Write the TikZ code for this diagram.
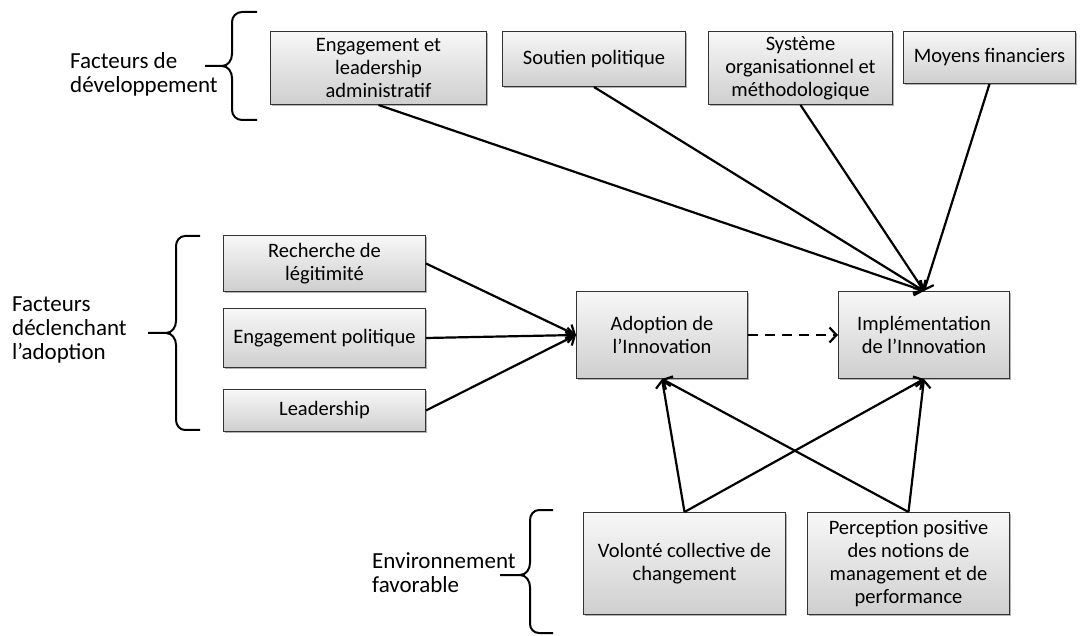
\documentclass[tikz,border=0pt]{standalone}
\usepackage{fontspec}
\setmainfont{Carlito}
\usepackage{tikz}
\usetikzlibrary{positioning,arrows.meta,shadows}
\tikzset{
  box/.style={draw=black!80,line width=1pt,top color=gray!6,bottom color=gray!38,
    align=center,inner sep=1pt,font=\fontsize{20.5}{23}\selectfont,anchor=north west,
    drop shadow={shadow xshift=1.5pt,shadow yshift=-1.5pt,opacity=0.3,fill=black}},
  lab/.style={align=left,inner sep=0pt,font=\fontsize{23}{24}\selectfont,anchor=west},
  brk/.style={line width=2pt,black},
  lnk/.style={->,line width=2.2pt},
}

\begin{document}
\begin{tikzpicture}[x=1pt,y=-1pt,>={Straight Barb[length=7pt,width=15pt,line width=2.2pt]}]
  \useasboundingbox (0,0) rectangle (1080,636);
  % top row: development factors
  \node[box,minimum width=216pt,minimum height=73pt] (eng) at (270,31) {Engagement et\\ leadership\\ administratif};
  \node[box,minimum width=183pt,minimum height=55pt] (sout) at (502,31) {Soutien politique};
  \node[box,minimum width=184pt,minimum height=73pt] (sys) at (708,31) {Système\\ organisationnel et\\ méthodologique};
  \node[box,minimum width=172pt,minimum height=52pt] (moy) at (903,31) {Moyens financiers};

  % left column: adoption triggers
  \node[box,minimum width=202pt,minimum height=56pt] (rech) at (223,235) {Recherche de\\ légitimité};
  \node[box,minimum width=202pt,minimum height=59pt] (engpol) at (223,308) {Engagement politique};
  \node[box,minimum width=202pt,minimum height=42pt] (lead) at (223,389) {Leadership};

  % centre
  \node[box,minimum width=171pt,minimum height=87pt] (adop) at (576,291) {Adoption de\\ l’Innovation};
  \node[box,minimum width=171pt,minimum height=87pt] (impl) at (838,291) {Implémentation\\ de l’Innovation};

  % bottom row: favourable environment
  \node[box,minimum width=202pt,minimum height=102pt] (vol) at (583,512) {Volonté collective de\\ changement};
  \node[box,minimum width=202pt,minimum height=102pt] (perc) at (807,512) {Perception positive\\ des notions de\\ management et de\\ performance};

  % group labels and braces
  \node[lab] (fdev) at (70,74) {Facteurs de\\ développement};
  \node[lab] (fdecl) at (12,330) {Facteurs\\ déclenchant\\ l’adoption};
  \node[lab] (fenv) at (372,573) {Environnement\\ favorable};

  \draw[brk] (257,12) -- (242,12) to[out=180,in=90] (232,22) -- (232,54)
    to[out=-90,in=0] (222,66) -- (205,66);
  \draw[brk] (222,66) to[out=0,in=90] (232,78) -- (232,110)
    to[out=-90,in=180] (242,120) -- (257,120);
  \draw[brk] (200,236) -- (185,236) to[out=180,in=90] (176,246) -- (176,321)
    to[out=-90,in=0] (166,333) -- (148,333);
  \draw[brk] (166,333) to[out=0,in=90] (176,345) -- (176,420)
    to[out=-90,in=180] (185,430) -- (200,430);
  \draw[brk] (553,510) -- (539,510) to[out=180,in=90] (530,520) -- (530,563)
    to[out=-90,in=0] (520,575) -- (500,575);
  \draw[brk] (520,575) to[out=0,in=90] (530,587) -- (530,624)
    to[out=-90,in=180] (539,633) -- (553,633);

  \draw[lnk] (eng.south)--(impl.north);
  \draw[lnk] (sout.south)--(impl.north);
  \draw[lnk] (sys.south)--(impl.north);
  \draw[lnk] (moy.south)--(impl.north);
  \draw[lnk] (rech.east)--(adop.west);
  \draw[lnk] (engpol.east)--(adop.west);
  \draw[lnk] (lead.east)--(adop.west);
  \draw[lnk,dash pattern=on 10pt off 7pt] (adop.east)--(impl.west);
  \draw[lnk] (vol.north)--(adop.south);
  \draw[lnk] (vol.north)--(impl.south);
  \draw[lnk] (perc.north)--(impl.south);
  \draw[lnk] (perc.north)--(adop.south);
\end{tikzpicture}
\end{document}
